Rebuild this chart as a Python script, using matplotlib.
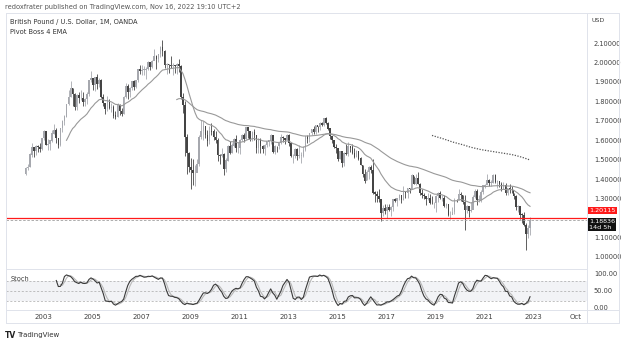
import numpy as np
import pandas as pd
import matplotlib
matplotlib.use("Agg")
import matplotlib.pyplot as plt
from matplotlib.lines import Line2D

# GBP/USD monthly candles, Apr 2002 .. Nov 2022 (OANDA)
FIRST_OPEN = 1.425
START_YEAR, START_MONTH = 2002, 4

closes = [
    # 2002 Apr-Dec
    1.458, 1.464, 1.526, 1.562, 1.546, 1.570, 1.563, 1.554, 1.610,
    # 2003
    1.646, 1.578, 1.581, 1.598, 1.634, 1.651, 1.610, 1.578, 1.662, 1.697, 1.722, 1.785,
    # 2004
    1.823, 1.866, 1.839, 1.771, 1.834, 1.815, 1.818, 1.798, 1.810, 1.838, 1.909, 1.917,
    # 2005
    1.884, 1.922, 1.889, 1.908, 1.820, 1.792, 1.760, 1.802, 1.765, 1.770, 1.727, 1.720,
    # 2006
    1.779, 1.752, 1.737, 1.824, 1.879, 1.849, 1.868, 1.904, 1.872, 1.909, 1.967, 1.958,
    # 2007
    1.962, 1.963, 1.968, 2.000, 1.978, 2.007, 2.032, 2.016, 2.044, 2.081, 2.060, 1.985,
    # 2008
    1.989, 1.985, 1.984, 1.987, 1.980, 1.992, 1.981, 1.821, 1.781, 1.616, 1.536, 1.461,
    # 2009
    1.448, 1.431, 1.431, 1.478, 1.615, 1.646, 1.670, 1.627, 1.598, 1.647, 1.645, 1.615,
    # 2010
    1.599, 1.522, 1.518, 1.529, 1.451, 1.495, 1.569, 1.536, 1.573, 1.603, 1.558, 1.561,
    # 2011
    1.602, 1.626, 1.604, 1.669, 1.647, 1.606, 1.643, 1.626, 1.559, 1.608, 1.569, 1.554,
    # 2012
    1.576, 1.593, 1.600, 1.624, 1.541, 1.570, 1.568, 1.587, 1.616, 1.613, 1.603, 1.625,
    # 2013
    1.586, 1.517, 1.519, 1.553, 1.520, 1.521, 1.521, 1.549, 1.619, 1.604, 1.636, 1.656,
    # 2014
    1.643, 1.675, 1.667, 1.688, 1.676, 1.711, 1.688, 1.660, 1.621, 1.600, 1.564, 1.558,
    # 2015
    1.506, 1.544, 1.483, 1.535, 1.528, 1.572, 1.562, 1.535, 1.513, 1.543, 1.506, 1.474,
    # 2016
    1.425, 1.392, 1.437, 1.461, 1.448, 1.331, 1.323, 1.313, 1.297, 1.224, 1.251, 1.234,
    # 2017
    1.258, 1.241, 1.255, 1.295, 1.289, 1.303, 1.320, 1.293, 1.340, 1.329, 1.353, 1.351,
    # 2018
    1.419, 1.377, 1.403, 1.376, 1.330, 1.320, 1.312, 1.300, 1.304, 1.277, 1.275, 1.275,
    # 2019
    1.311, 1.326, 1.303, 1.304, 1.263, 1.270, 1.216, 1.217, 1.229, 1.294, 1.293, 1.325,
    # 2020
    1.320, 1.282, 1.241, 1.259, 1.234, 1.240, 1.309, 1.337, 1.292, 1.295, 1.334, 1.367,
    # 2021
    1.370, 1.393, 1.378, 1.382, 1.422, 1.383, 1.390, 1.376, 1.347, 1.369, 1.330, 1.353,
    # 2022 Jan-Nov
    1.344, 1.342, 1.313, 1.257, 1.260, 1.218, 1.217, 1.162, 1.117, 1.147, 1.18836,
]

highs = [
    1.463, 1.476, 1.533, 1.585, 1.559, 1.575, 1.574, 1.588, 1.612,
    1.654, 1.642, 1.605, 1.601, 1.655, 1.686, 1.663, 1.614, 1.665, 1.705, 1.729, 1.785,
    1.858, 1.905, 1.868, 1.845, 1.840, 1.849, 1.858, 1.848, 1.819, 1.846, 1.910, 1.955,
    1.905, 1.923, 1.940, 1.919, 1.913, 1.838, 1.794, 1.828, 1.812, 1.794, 1.780, 1.752,
    1.790, 1.785, 1.764, 1.830, 1.895, 1.888, 1.872, 1.905, 1.909, 1.912, 1.968, 1.985,
    1.988, 1.984, 1.976, 2.009, 1.999, 2.012, 2.069, 2.039, 2.044, 2.084, 2.116, 2.062,
    1.998, 1.994, 2.031, 1.998, 1.988, 1.996, 2.016, 1.989, 1.841, 1.804, 1.633, 1.539,
    1.507, 1.502, 1.471, 1.503, 1.628, 1.703, 1.700, 1.674, 1.652, 1.672, 1.691, 1.660,
    1.646, 1.612, 1.529, 1.561, 1.533, 1.510, 1.574, 1.595, 1.588, 1.610, 1.629, 1.590,
    1.605, 1.634, 1.635, 1.670, 1.670, 1.646, 1.648, 1.659, 1.624, 1.612, 1.612, 1.574,
    1.582, 1.598, 1.600, 1.630, 1.628, 1.574, 1.573, 1.590, 1.631, 1.622, 1.607, 1.631,
    1.630, 1.586, 1.527, 1.561, 1.560, 1.575, 1.541, 1.571, 1.623, 1.625, 1.637, 1.660,
    1.672, 1.677, 1.672, 1.693, 1.696, 1.711, 1.718, 1.692, 1.664, 1.622, 1.601, 1.579,
    1.560, 1.547, 1.546, 1.540, 1.582, 1.589, 1.567, 1.582, 1.560, 1.551, 1.544, 1.516,
    1.474, 1.452, 1.445, 1.466, 1.473, 1.502, 1.339, 1.337, 1.350, 1.297, 1.265, 1.274,
    1.271, 1.270, 1.262, 1.295, 1.305, 1.301, 1.326, 1.320, 1.366, 1.334, 1.354, 1.355,
    1.425, 1.416, 1.424, 1.437, 1.380, 1.347, 1.329, 1.304, 1.330, 1.322, 1.314, 1.285,
    1.321, 1.336, 1.338, 1.318, 1.318, 1.278, 1.274, 1.234, 1.255, 1.301, 1.298, 1.351,
    1.335, 1.320, 1.320, 1.265, 1.249, 1.281, 1.317, 1.348, 1.348, 1.318, 1.342, 1.370,
    1.376, 1.424, 1.401, 1.398, 1.425, 1.425, 1.398, 1.390, 1.383, 1.383, 1.378, 1.355,
    1.375, 1.365, 1.330, 1.317, 1.267, 1.260, 1.225, 1.229, 1.173, 1.164, 1.203,
]

lows = [
    1.422, 1.446, 1.461, 1.512, 1.513, 1.524, 1.542, 1.542, 1.550,
    1.599, 1.574, 1.549, 1.552, 1.590, 1.634, 1.585, 1.560, 1.571, 1.644, 1.681, 1.718,
    1.780, 1.822, 1.775, 1.755, 1.755, 1.792, 1.807, 1.774, 1.775, 1.786, 1.830, 1.901,
    1.858, 1.855, 1.862, 1.872, 1.818, 1.777, 1.735, 1.750, 1.760, 1.744, 1.714, 1.711,
    1.719, 1.731, 1.724, 1.737, 1.819, 1.811, 1.821, 1.859, 1.861, 1.868, 1.900, 1.940,
    1.934, 1.938, 1.917, 1.962, 1.962, 1.970, 2.017, 1.964, 2.005, 2.030, 2.033, 1.974,
    1.940, 1.945, 1.972, 1.935, 1.944, 1.940, 1.951, 1.814, 1.738, 1.520, 1.427, 1.435,
    1.350, 1.371, 1.366, 1.441, 1.469, 1.604, 1.603, 1.614, 1.573, 1.583, 1.627, 1.600,
    1.585, 1.492, 1.476, 1.515, 1.423, 1.437, 1.494, 1.531, 1.532, 1.566, 1.540, 1.534,
    1.531, 1.597, 1.591, 1.604, 1.611, 1.595, 1.597, 1.601, 1.537, 1.533, 1.533, 1.537,
    1.523, 1.565, 1.569, 1.583, 1.533, 1.530, 1.538, 1.555, 1.582, 1.592, 1.583, 1.600,
    1.572, 1.512, 1.484, 1.508, 1.500, 1.511, 1.485, 1.512, 1.543, 1.588, 1.589, 1.625,
    1.630, 1.631, 1.643, 1.651, 1.673, 1.671, 1.686, 1.655, 1.605, 1.588, 1.558, 1.534,
    1.495, 1.503, 1.462, 1.467, 1.522, 1.518, 1.539, 1.527, 1.507, 1.512, 1.498, 1.473,
    1.411, 1.380, 1.394, 1.403, 1.432, 1.322, 1.283, 1.284, 1.284, 1.184, 1.212, 1.223,
    1.199, 1.234, 1.211, 1.238, 1.281, 1.263, 1.294, 1.277, 1.294, 1.303, 1.305, 1.330,
    1.349, 1.377, 1.371, 1.376, 1.320, 1.305, 1.296, 1.266, 1.292, 1.272, 1.272, 1.250,
    1.230, 1.281, 1.298, 1.290, 1.258, 1.251, 1.208, 1.196, 1.219, 1.220, 1.282, 1.291,
    1.290, 1.272, 1.141, 1.227, 1.206, 1.230, 1.245, 1.301, 1.269, 1.283, 1.285, 1.326,
    1.352, 1.379, 1.367, 1.367, 1.380, 1.379, 1.357, 1.360, 1.341, 1.351, 1.319, 1.316,
    1.327, 1.328, 1.300, 1.241, 1.233, 1.193, 1.176, 1.159, 1.035, 1.095, 1.114,
]

EMA_LENGTHS = [21, 75, 200]
HLINE_PRICE = 1.20115
LAST_PRICE = 1.18836
COUNTDOWN = "14d 5h"
PRICE_TICKS = [1.0, 1.1, 1.3, 1.4, 1.5, 1.6, 1.7, 1.8, 1.9, 2.0, 2.1]
YEAR_TICKS = list(range(2003, 2024, 2))

W, H = 625, 343
UP = "#a6a8ae"
DOWN = "#444444"
BORDER = "#e0e3eb"
TXT = "#404040"


def ema(series, n):
    # pine style: seeded with SMA of first n values
    out = np.full(len(series), np.nan)
    a = 2.0 / (n + 1)
    out[n - 1] = np.mean(series[:n])
    for i in range(n, len(series)):
        out[i] = a * series[i] + (1 - a) * out[i - 1]
    return out


close = np.array(closes)
high = np.array(highs)
low = np.array(lows)
opn = np.concatenate([[FIRST_OPEN], close[:-1]])
n = len(close)
t = np.array([START_YEAR + (START_MONTH - 1 + i + 0.5) / 12 for i in range(n)])

# stochastic 14,3,3
hh = pd.Series(high).rolling(14).max()
ll = pd.Series(low).rolling(14).min()
raw_k = 100 * (pd.Series(close) - ll) / (hh - ll)
stoch_k = raw_k.rolling(3).mean()
stoch_d = stoch_k.rolling(3).mean()

fig = plt.figure(figsize=(W / 100, H / 100), dpi=100)


def fr(x0, y0, x1, y1):
    return [x0 / W, 1 - y1 / H, (x1 - x0) / W, (y1 - y0) / H]


ax = fig.add_axes(fr(6, 13, 587, 269))
ax2 = fig.add_axes(fr(6, 269, 587, 310), sharex=ax)

# candles
up = close >= opn
for mask, col in [(up, UP), (~up, DOWN)]:
    ax.vlines(t[mask], low[mask], high[mask], color=col, lw=0.6)
    ax.bar(t[mask], np.abs(close - opn)[mask] + 0.001,
           bottom=np.minimum(close, opn)[mask], width=0.065, color=col, lw=0)

# EMAs
for length in EMA_LENGTHS:
    e = ema(close, length)
    if length >= 200:
        ax.plot(t, e, color="#555555", lw=0.9, ls=(0, (1, 1.2)))
    else:
        ax.plot(t, e, color="#999999", lw=0.8)

ax.axhline(HLINE_PRICE, color="#ff1a1a", lw=0.9)
ax.axhline(LAST_PRICE, color="#a0a0a0", lw=0.6, ls=(0, (3, 2)))

ax.set_xlim(2001.49, 2025.2)
ax.set_ylim(0.938, 2.2545)
ax.yaxis.tick_right()
ax.set_yticks(PRICE_TICKS)
ax.set_yticklabels([f"{v:.5f}" for v in PRICE_TICKS])
ax.tick_params(axis="y", length=0, pad=5, labelsize=4.8, labelcolor=TXT)
ax.tick_params(axis="x", length=0, labelbottom=False)

# stochastic pane
ax2.axhspan(20, 80, color="#f2f3f6", lw=0)
for lv in (20, 50, 80):
    ax2.axhline(lv, color="#a8a8a8", lw=0.5, ls=(0, (3, 2.5)))
ax2.plot(t, stoch_d, color="#b8b8b8", lw=0.8)
ax2.plot(t, stoch_k, color="#3a3a3a", lw=0.8)
ax2.set_ylim(-5.9, 114.7)
ax2.yaxis.tick_right()
ax2.set_yticks([0, 50, 100])
ax2.set_yticklabels(["0.00", "50.00", "100.00"])
ax2.tick_params(axis="y", length=0, pad=5, labelsize=4.8, labelcolor=TXT)
ax2.set_xticks(YEAR_TICKS + [2024.75])
ax2.set_xticklabels([str(y) for y in YEAR_TICKS] + ["Oct"])
ax2.tick_params(axis="x", length=0, pad=3, labelsize=5, labelcolor=TXT)
ax2.text(0.008, 0.76, "Stoch", transform=ax2.transAxes, fontsize=4.8,
         color=TXT, va="center")

for a in (ax, ax2):
    for s in a.spines.values():
        s.set_color(BORDER)
        s.set_linewidth(0.7)

# outer frame: price scale column and time axis row
for (x0, y0, x1, y1) in [(619, 13, 619, 323), (6, 323, 619, 323),
                         (587, 310, 619, 310), (587, 13, 619, 13),
                         (6, 310, 6, 323), (587, 310, 587, 323)]:
    fig.add_artist(Line2D([x0 / W, x1 / W], [1 - y0 / H, 1 - y1 / H],
                          color=BORDER, lw=0.7))

# header / footer text
fig.text(5 / W, 1 - 7 / H, "redoxfrater published on TradingView.com, Nov 16, 2022 19:10 UTC+2",
         fontsize=4.8, color="#555555", va="center")
fig.text(10 / W, 1 - 22 / H, "British Pound / U.S. Dollar, 1M, OANDA",
         fontsize=4.8, color="#333333", va="center")
fig.text(10 / W, 1 - 32 / H, "Pivot Boss 4 EMA", fontsize=4.8, color="#333333", va="center")
fig.text(592 / W, 1 - 20 / H, "USD", fontsize=4.5, color=TXT, va="center")
fig.text(5 / W, 1 - 335 / H, "TV", fontsize=5.5, color="#222222", va="center",
         weight="bold")
fig.text(17 / W, 1 - 335 / H, "TradingView", fontsize=5, color="#333333", va="center")

# price labels on the scale
fig.text(589 / W, 1 - 210.5 / H, f"{HLINE_PRICE:.5f}", fontsize=4.6, color="white",
         va="center", bbox=dict(boxstyle="square,pad=0.2", fc="#ff1a1a", ec="none"))
fig.text(589 / W, 1 - 224.5 / H, f"{LAST_PRICE:.5f}\n{COUNTDOWN}", fontsize=4.6,
         color="white", va="center", linespacing=1.05,
         bbox=dict(boxstyle="square,pad=0.2", fc="#111111", ec="none"))

fig.savefig("out.png", dpi=100)
